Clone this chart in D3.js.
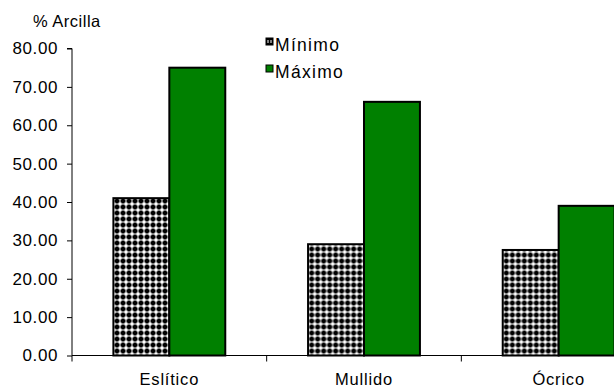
<!DOCTYPE html>
<html>
<head>
<meta charset="utf-8">
<script src="https://cdn.jsdelivr.net/npm/d3@7"></script>
<style>
  html, body { margin: 0; padding: 0; background: #fff; }
  svg { display: block; font-family: "Liberation Sans", Arial, sans-serif; }
</style>
</head>
<body>
<svg id="chart" width="614" height="388"></svg>
<script>
// Clay content (%) per soil horizon
const categories = ["Eslítico", "Mullido", "Ócrico"];
const seriesNames = ["Mínimo", "Máximo"];
const minimo = [41.0, 29.0, 27.5];
const maximo = [75.0, 66.1, 39.0];
const yTicks = [0, 10, 20, 30, 40, 50, 60, 70, 80];

const data = categories.map((c, i) => ({ cat: c, values: [minimo[i], maximo[i]] }));

const svg = d3.select("#chart");
const margin = { left: 72, top: 48.5, bottom: 355.5, right: 656 };

// dotted fill for the minimum series
const defs = svg.append("defs");
const pat = defs.append("pattern")
  .attr("id", "dots")
  .attr("patternUnits", "userSpaceOnUse")
  .attr("width", 6).attr("height", 6);
pat.append("rect").attr("width", 6).attr("height", 6).attr("fill", "#fff");
pat.append("rect").attr("x", 0.5).attr("y", 1.5).attr("width", 5).attr("height", 3).attr("fill", "#000");
pat.append("rect").attr("x", 1.5).attr("y", 0.5).attr("width", 3).attr("height", 5).attr("fill", "#000");

const fills = ["url(#dots)", "#008000"];

const x0 = d3.scaleBand().domain(categories).range([margin.left, margin.right]).padding(0);
const x1 = d3.scaleBand().domain(seriesNames).range([0, x0.bandwidth()])
  .paddingInner(0).paddingOuter(0.74);
const y = d3.scaleLinear().domain([0, 80]).range([margin.bottom, margin.top]);

// bars
const groups = svg.append("g").selectAll("g").data(data).join("g")
  .attr("transform", d => `translate(${x0(d.cat)},0)`);
groups.selectAll("rect")
  .data(d => d.values.map((v, i) => ({ s: seriesNames[i], v, i })))
  .join("rect")
  .attr("x", d => x1(d.s))
  .attr("y", d => y(d.v))
  .attr("width", x1.bandwidth())
  .attr("height", d => y(0) - y(d.v))
  .attr("fill", d => fills[d.i])
  .attr("stroke", "#000")
  .attr("stroke-width", 2);

// y axis
const yAxis = d3.axisLeft(y).tickValues(yTicks).tickFormat(d3.format(".2f"))
  .tickSize(5).tickPadding(9);
const gy = svg.append("g").attr("transform", `translate(${margin.left},0)`).call(yAxis);
gy.select(".domain").attr("stroke", "#000").attr("d", `M-5,${y(80)}H0V${y(0)}`);
gy.selectAll("text").attr("font-size", 17).attr("fill", "#000")
  .attr("font-family", "Liberation Sans, Arial, sans-serif").style("letter-spacing", "0.6px");

// x axis with ticks on category boundaries
const gx = svg.append("g").attr("transform", `translate(0,${margin.bottom})`);
gx.append("line").attr("x1", margin.left).attr("x2", margin.right)
  .attr("stroke", "#000");
const bounds = categories.map(c => x0(c)).concat([margin.right]);
gx.selectAll("line.tick").data(bounds).join("line").attr("class", "tick")
  .attr("x1", d => d).attr("x2", d => d).attr("y1", 0).attr("y2", 6)
  .attr("stroke", "#000");
gx.selectAll("text").data(categories).join("text")
  .attr("x", d => x0(d) + x0.bandwidth() / 2)
  .attr("y", 29)
  .attr("text-anchor", "middle")
  .attr("font-size", 16.5)
  .style("letter-spacing", "0.8px")
  .text(d => d);

// axis title
svg.append("text").attr("x", 33).attr("y", 26.5)
  .attr("font-size", 16.5).style("letter-spacing", "0.5px").text("% Arcilla");

// legend
const legend = svg.append("g").attr("transform", "translate(266,0)");
const items = legend.selectAll("g").data(seriesNames).join("g")
  .attr("transform", (d, i) => `translate(0,${38 + i * 27})`);
items.append("rect").attr("width", 7).attr("height", 7)
  .attr("fill", (d, i) => i === 0 ? "#000" : "#008000")
  .attr("stroke", "#000").attr("stroke-width", 1);
items.filter((d, i) => i === 0).selectAll("rect.hole").data([1.5, 4.5]).join("rect")
  .attr("class", "hole")
  .attr("x", d => d).attr("y", 2).attr("width", 1).attr("height", 3).attr("fill", "#fff");
items.append("text").attr("x", 9).attr("y", 13)
  .attr("font-size", 17.5).style("letter-spacing", "1.3px").text(d => d);
</script>
</body>
</html>
